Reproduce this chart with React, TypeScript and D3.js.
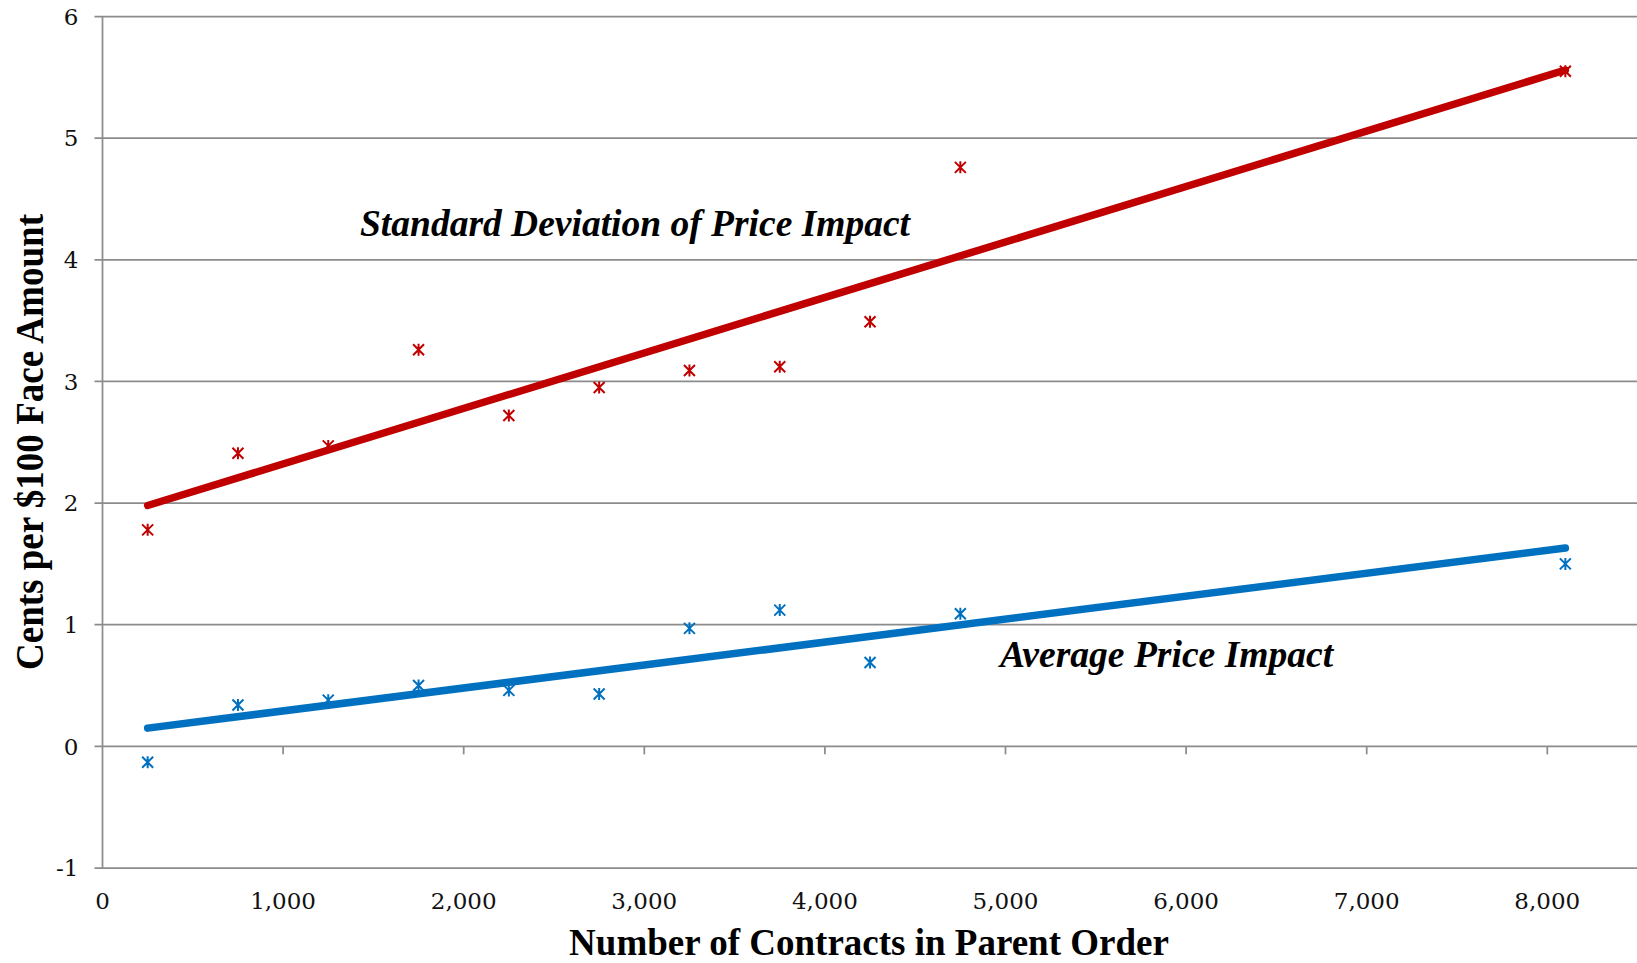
import React from "react";
import * as d3 from "d3";

const contracts = [250, 750, 1250, 1750, 2250, 2750, 3250, 3750, 4250, 4750, 8100];
const stdDevImpact = [1.78, 2.41, 2.47, 3.26, 2.72, 2.95, 3.09, 3.12, 3.49, 4.76, 5.55];
const avgImpact = [-0.13, 0.34, 0.38, 0.5, 0.46, 0.43, 0.97, 1.12, 0.69, 1.09, 1.5];
const stdDevTrend = [1.98, 5.56];
const avgTrend = [0.15, 1.63];
const trendX = [250, 8100];
const yTicks = [-1, 0, 1, 2, 3, 4, 5, 6];
const xTicks = [0, 1000, 2000, 3000, 4000, 5000, 6000, 7000, 8000];

const W = 1637;
const H = 963;
const RED = "#C00000";
const BLUE = "#0070C0";
const GRID = "#8c8c8c";

export default function App() {
  const x = d3.scaleLinear().domain([0, 8500]).range([102.5, 1637.6]);
  const y = d3.scaleLinear().domain([-1, 6]).range([868, 16.5]);
  const fmt = d3.format(",");
  const line = d3
    .line<[number, number]>()
    .x((d) => x(d[0]))
    .y((d) => y(d[1]));

  const star = (cx: number, cy: number) => {
    const p = d3.path();
    const r = 5.5;
    p.moveTo(cx - r, cy - r);
    p.lineTo(cx + r, cy + r);
    p.moveTo(cx - r, cy + r);
    p.lineTo(cx + r, cy - r);
    p.moveTo(cx, cy - r - 0.5);
    p.lineTo(cx, cy + r + 0.5);
    return p.toString();
  };

  const redTrend: [number, number][] = trendX.map((v, i) => [v, stdDevTrend[i]]);
  const blueTrend: [number, number][] = trendX.map((v, i) => [v, avgTrend[i]]);

  return (
    <svg
      width={W}
      height={H}
      style={{ position: "absolute", left: 0, top: 0, display: "block", background: "#fff" }}
    >
      <rect x={0} y={0} width={W} height={H} fill="#fff" />
      {yTicks.map((t) => (
        <line
          key={"g" + t}
          x1={x(0) - 8}
          x2={x(8500)}
          y1={y(t)}
          y2={y(t)}
          stroke={GRID}
          strokeWidth={1.75}
        />
      ))}
      <line x1={x(0)} x2={x(0)} y1={y(-1)} y2={y(6)} stroke={GRID} strokeWidth={1.75} />
      {xTicks
        .filter((t) => t > 0)
        .map((t) => (
          <line
            key={"xt" + t}
            x1={x(t)}
            x2={x(t)}
            y1={y(0)}
            y2={y(0) + 8}
            stroke={GRID}
            strokeWidth={1.75}
          />
        ))}
      {yTicks.map((t) => (
        <text
          key={"yl" + t}
          x={x(0) - 24}
          y={y(t)}
          dy="0.36em"
          textAnchor="end"
          fontFamily="'DejaVu Serif', serif"
          fontSize={23}
          fill="#111"
        >
          {t}
        </text>
      ))}
      {xTicks.map((t) => (
        <text
          key={"xl" + t}
          x={x(t)}
          y={909}
          textAnchor="middle"
          fontFamily="'DejaVu Serif', serif"
          fontSize={23}
          fill="#111"
        >
          {fmt(t)}
        </text>
      ))}
      <path d={line(redTrend) || ""} fill="none" stroke={RED} strokeWidth={7.5} strokeLinecap="round" />
      <path d={line(blueTrend) || ""} fill="none" stroke={BLUE} strokeWidth={7.5} strokeLinecap="round" />
      {contracts.map((c, i) => (
        <path key={"r" + i} d={star(x(c), y(stdDevImpact[i]))} stroke={RED} strokeWidth={2} fill="none" />
      ))}
      {contracts.map((c, i) => (
        <path key={"b" + i} d={star(x(c), y(avgImpact[i]))} stroke={BLUE} strokeWidth={2} fill="none" />
      ))}
      <text
        x={360}
        y={236}
        fontFamily="'Liberation Serif', serif"
        fontWeight="bold"
        fontStyle="italic"
        fontSize={37.5}
        fill="#000"
      >
        Standard Deviation of Price Impact
      </text>
      <text
        x={1000}
        y={667}
        fontFamily="'Liberation Serif', serif"
        fontWeight="bold"
        fontStyle="italic"
        fontSize={37.6}
        fill="#000"
      >
        Average Price Impact
      </text>
      <text
        x={869}
        y={954.5}
        textAnchor="middle"
        fontFamily="'Liberation Serif', serif"
        fontWeight="bold"
        fontSize={37}
        fill="#000"
      >
        Number of Contracts in Parent Order
      </text>
      <text
        transform="translate(43,442) rotate(-90)"
        textAnchor="middle"
        fontFamily="'Liberation Serif', serif"
        fontWeight="bold"
        fontSize={39}
        textLength={456}
        lengthAdjust="spacingAndGlyphs"
        fill="#000"
      >
        Cents per $100 Face Amount
      </text>
    </svg>
  );
}
